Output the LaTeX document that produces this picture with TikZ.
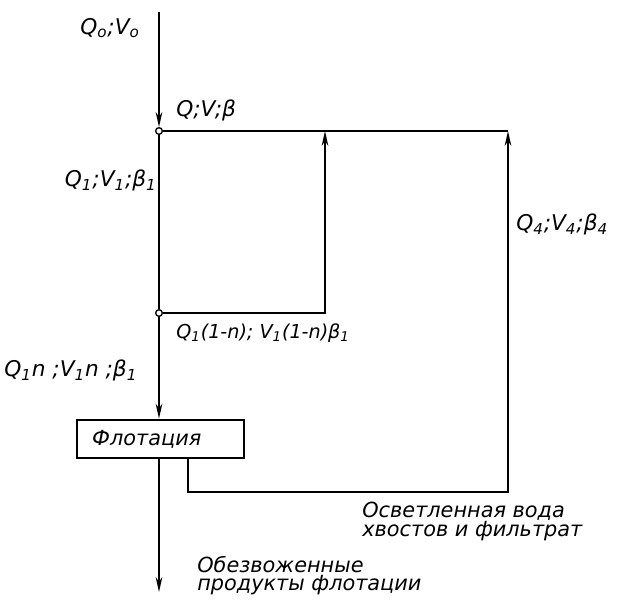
\documentclass[tikz,border=0pt]{standalone}
\usepackage{fontspec}
\setmainfont{DejaVu Sans}
\usetikzlibrary{arrows.meta}
\newcommand{\sbs}[1]{\textsubscript{#1}}

\begin{document}
\begin{tikzpicture}[x=0.6pt, y=-0.6pt,
    font=\fontsize{12.5}{11}\selectfont\itshape,
    flow/.style={line width=1pt},
    arr/.style={flow, -{Stealth[length=9pt, width=4pt]}},
    junc/.style={circle, draw, line width=0.8pt, fill=white, inner sep=0pt, minimum size=4pt},
    lbl/.style={inner sep=0pt, font=\fontsize{13}{13}\selectfont\itshape},
    note/.style={inner sep=0pt, align=left}]
  \useasboundingbox (0,0) rectangle (628,606);

  % points of the scheme
  \coordinate (in) at (159,12);
  \node[junc] (j1) at (159,131) {};
  \node[junc] (j2) at (159,313) {};
  \coordinate (t1) at (325,131);
  \coordinate (t2) at (508,131);
  \coordinate (b1) at (325,313);
  \coordinate (w1) at (188,492);
  \coordinate (w2) at (508,492);
  \coordinate (out) at (159,592);
  \node[draw, line width=1.5pt, minimum width=100pt, minimum height=23pt,
        text width=82pt, inner xsep=9pt, align=left] (flot) at (160.5,439) {Флотация};

  % flows
  \draw[arr] (in) -- (j1);
  \draw[flow] (j1) -- (t2);
  \draw[flow] (j1) -- (j2);
  \draw[arr] (j2) -- (b1) -- (t1);
  \draw[arr] (j2) -- (j2 |- flot.north);
  \draw[arr] (flot.south -| j2) -- (out);
  \draw[arr] (w1 |- flot.south) -- (w1) -- (w2) -- (t2);

  % labels
  \node[lbl, anchor=west] (l0) at (80,28) {Q\sbs{o};V\sbs{o}};
  \node[lbl, anchor=west] (l1) at (176,110) {Q;V;β};
  \node[lbl, anchor=east] (l2) at (157,180) {Q\sbs{1};V\sbs{1};β\sbs{1}};
  \node[lbl, anchor=west, font=\fontsize{11.5}{12}\selectfont\itshape] (l3) at (176,333) {Q\sbs{1}(1-n); V\sbs{1}(1-n)β\sbs{1}};
  \node[lbl, anchor=west] (l4) at (4,370) {Q\sbs{1}n ;V\sbs{1}n ;β\sbs{1}};
  \node[lbl, anchor=west] (l5) at (516,224) {Q\sbs{4};V\sbs{4};β\sbs{4}};
  \node[note, anchor=north west] (n1) at (362,502) {Осветленная вода\\хвостов и фильтрат};
  \node[note, anchor=north west] (n2) at (197,556) {Обезвоженные\\продукты флотации};
\end{tikzpicture}
\end{document}
